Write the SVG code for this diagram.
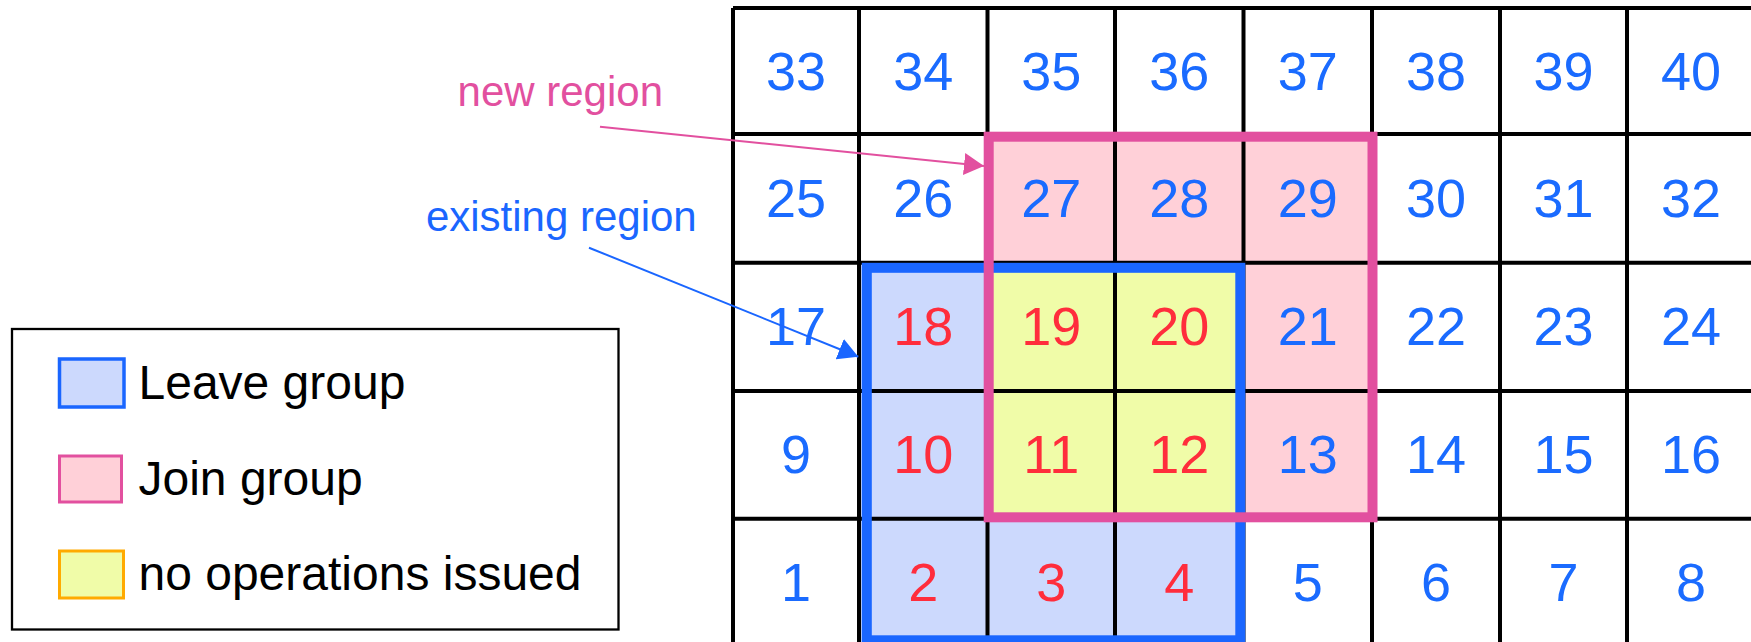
<svg xmlns="http://www.w3.org/2000/svg" width="1751" height="642" viewBox="0 0 1751 642">
<style>
.num{font-family:"Liberation Sans",Arial,sans-serif;font-size:54px;text-anchor:middle}
.b{fill:#1A6BFF}
.r{fill:#FF2D3C}
.grid{stroke:#000;stroke-width:4;fill:none}
.lbl{font-family:"Liberation Sans",Arial,sans-serif;font-size:42px;text-anchor:middle}
.leg{font-family:"Liberation Sans",Arial,sans-serif;font-size:48px;fill:#000}
</style>
<defs>
<marker id="ahPink" viewBox="0 0 20 22" refX="20" refY="11" markerWidth="20" markerHeight="22" markerUnits="userSpaceOnUse" orient="auto"><path d="M0,0 L20,11 L0,22 z" fill="#E2509F"/></marker>
<marker id="ahBlue" viewBox="0 0 20 22" refX="20" refY="11" markerWidth="20" markerHeight="22" markerUnits="userSpaceOnUse" orient="auto"><path d="M0,0 L20,11 L0,22 z" fill="#1A66FF"/></marker>
</defs>
<rect width="1751" height="642" fill="#fff"/>
<g id="fills">
<rect x="859" y="262.8" width="384.5" height="390" fill="#CCD9FD"/>
<rect x="987.5" y="134" width="384.5" height="384.8" fill="#FFD0D8"/>
<rect x="987.5" y="262.8" width="256" height="256" fill="#F0FCA8"/>
</g>
<g id="grid" class="grid">
<path d="M733,8 V660 M859,8 V660 M987.5,8 V660 M1115,8 V660 M1243.5,8 V660 M1372,8 V660 M1500,8 V660 M1627,8 V660"/>
<path d="M733,8 H1760 M733,134 H1760 M733,262.8 H1760 M733,391 H1760 M733,518.8 H1760"/>
</g>
<g id="existing-region"><rect x="866.8" y="267.8" width="373.5" height="372.5" fill="none" stroke="#1A66FF" stroke-width="10"/></g>
<g id="new-region"><rect x="988.7" y="136.7" width="383.8" height="380.6" fill="none" stroke="#E2509F" stroke-width="10"/></g>
<g id="cells">
<g id="c33"><text class="num b" x="796" y="89.5">33</text></g>
<g id="c34"><text class="num b" x="923.3" y="89.5">34</text></g>
<g id="c35"><text class="num b" x="1051.3" y="89.5">35</text></g>
<g id="c36"><text class="num b" x="1179.3" y="89.5">36</text></g>
<g id="c37"><text class="num b" x="1307.8" y="89.5">37</text></g>
<g id="c38"><text class="num b" x="1436" y="89.5">38</text></g>
<g id="c39"><text class="num b" x="1563.5" y="89.5">39</text></g>
<g id="c40"><text class="num b" x="1691" y="89.5">40</text></g>
<g id="c25"><text class="num b" x="796" y="216.9">25</text></g>
<g id="c26"><text class="num b" x="923.3" y="216.9">26</text></g>
<g id="c27"><text class="num b" x="1051.3" y="216.9">27</text></g>
<g id="c28"><text class="num b" x="1179.3" y="216.9">28</text></g>
<g id="c29"><text class="num b" x="1307.8" y="216.9">29</text></g>
<g id="c30"><text class="num b" x="1436" y="216.9">30</text></g>
<g id="c31"><text class="num b" x="1563.5" y="216.9">31</text></g>
<g id="c32"><text class="num b" x="1691" y="216.9">32</text></g>
<g id="c17"><text class="num b" x="796" y="345.4">17</text></g>
<g id="c18"><text class="num r" x="923.3" y="345.4">18</text></g>
<g id="c19"><text class="num r" x="1051.3" y="345.4">19</text></g>
<g id="c20"><text class="num r" x="1179.3" y="345.4">20</text></g>
<g id="c21"><text class="num b" x="1307.8" y="345.4">21</text></g>
<g id="c22"><text class="num b" x="1436" y="345.4">22</text></g>
<g id="c23"><text class="num b" x="1563.5" y="345.4">23</text></g>
<g id="c24"><text class="num b" x="1691" y="345.4">24</text></g>
<g id="c9"><text class="num b" x="796" y="473.4">9</text></g>
<g id="c10"><text class="num r" x="923.3" y="473.4">10</text></g>
<g id="c11"><text class="num r" x="1051.3" y="473.4">11</text></g>
<g id="c12"><text class="num r" x="1179.3" y="473.4">12</text></g>
<g id="c13"><text class="num b" x="1307.8" y="473.4">13</text></g>
<g id="c14"><text class="num b" x="1436" y="473.4">14</text></g>
<g id="c15"><text class="num b" x="1563.5" y="473.4">15</text></g>
<g id="c16"><text class="num b" x="1691" y="473.4">16</text></g>
<g id="c1"><text class="num b" x="796" y="601">1</text></g>
<g id="c2"><text class="num r" x="923.3" y="601">2</text></g>
<g id="c3"><text class="num r" x="1051.3" y="601">3</text></g>
<g id="c4"><text class="num r" x="1179.3" y="601">4</text></g>
<g id="c5"><text class="num b" x="1307.8" y="601">5</text></g>
<g id="c6"><text class="num b" x="1436" y="601">6</text></g>
<g id="c7"><text class="num b" x="1563.5" y="601">7</text></g>
<g id="c8"><text class="num b" x="1691" y="601">8</text></g>
</g>
<g id="label-new"><text class="lbl" x="560.3" y="106" fill="#E2509F">new region</text></g>
<g id="label-existing"><text class="lbl" x="561.3" y="231" fill="#1A66FF">existing region</text></g>
<g id="connectors">
<line x1="600" y1="126.7" x2="984" y2="166" stroke="#E2509F" stroke-width="2" marker-end="url(#ahPink)"/>
<line x1="589" y1="247.7" x2="858.3" y2="356.7" stroke="#1A66FF" stroke-width="2" marker-end="url(#ahBlue)"/>
</g>
<g id="legend">
<rect x="12" y="329" width="606.5" height="300.5" fill="#fff" stroke="#000" stroke-width="2.3"/>
<rect x="59.5" y="359" width="64.5" height="48" fill="#CCD9FD" stroke="#1A66FF" stroke-width="3.5"/>
<text class="leg" x="138.5" y="399.3">Leave group</text>
<rect x="59.5" y="456" width="62" height="46" fill="#FFD0D8" stroke="#E2509F" stroke-width="3"/>
<text class="leg" x="138.5" y="495">Join group</text>
<rect x="59.5" y="551" width="64" height="47" fill="#F0FCA8" stroke="#FFAA00" stroke-width="3"/>
<text class="leg" x="138.5" y="590">no operations issued</text>
</g>
</svg>
